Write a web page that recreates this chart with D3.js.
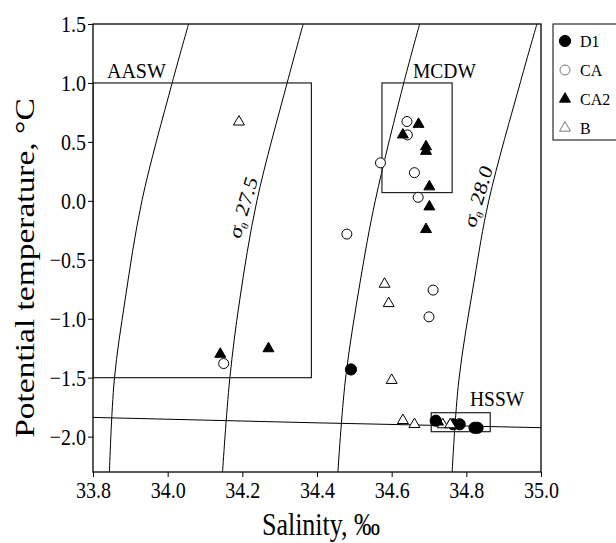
<!DOCTYPE html>
<html>
<head>
<meta charset="utf-8">
<script src="https://cdn.jsdelivr.net/npm/d3@7"></script>
<style>
  body { margin: 0; background: #fff; }
  svg { display: block; font-family: "Liberation Serif", "Times New Roman", serif; }
</style>
</head>
<body>
<div id="chart"></div>
<script>
// tick values
const salTicks = [33.8, 34.0, 34.2, 34.4, 34.6, 34.8, 35.0];
const tempTicks = [1.5, 1.0, 0.5, 0.0, -0.5, -1.0, -1.5, -2.0];

// station groups, [salinity, potential temperature]
const d1 = [[34.491, -1.43], [34.718, -1.865], [34.765, -1.895], [34.782, -1.895], [34.822, -1.925], [34.830, -1.925]];
const ca = [[34.641, 0.673], [34.642, 0.559], [34.570, 0.322], [34.661, 0.239], [34.671, 0.03], [34.480, -0.282], [34.711, -0.757], [34.700, -0.984], [34.150, -1.38]];
const ca2 = [[34.672, 0.650], [34.630, 0.560], [34.692, 0.460], [34.692, 0.421], [34.701, 0.120], [34.701, -0.050], [34.692, -0.242], [34.141, -1.300], [34.270, -1.253], [34.724, -1.875]];
const bPts = [[34.191, 0.670], [34.581, -0.706], [34.592, -0.870], [34.600, -1.522], [34.630, -1.862], [34.661, -1.896], [34.737, -1.898], [34.757, -1.898]];

// isopycnals (sigma-theta)
const iso2725 = [[34.056, 1.5], [34.012, 1.0], [33.931, 0.0], [33.886, -0.84], [33.857, -1.52], [33.844, -2.3]];
const iso2750 = [[34.363, 1.5], [34.320, 1.0], [34.239, 0.0], [34.193, -0.84], [34.166, -1.52], [34.147, -2.3]];
const iso2775 = [[34.675, 1.5], [34.634, 1.02], [34.556, 0.0], [34.516, -0.68], [34.476, -1.52], [34.456, -2.3]];
const iso2800 = [[34.989, 1.5], [34.946, 1.02], [34.860, 0.0], [34.821, -0.68], [34.780, -1.52], [34.762, -2.3]];

// surface freezing point line
const freezing = [[33.8, -1.837], [34.4, -1.883], [35.0, -1.924]];

// water mass boxes: [sMin, sMax, tMin, tMax]
const waterMasses = [
  { name: "AASW", box: [33.8, 34.385, -1.5, 1.0] },
  { name: "MCDW", box: [34.574, 34.762, 0.07, 1.0] },
  { name: "HSSW", box: [34.706, 34.864, -1.958, -1.797] }
];

const seriesNames = ["D1", "CA", "CA2", "B"];

const width = 616, height = 543;
const margin = { top: 24, right: 75, bottom: 71, left: 93 };
const w = 448, h = 448;
const stretchY = 1.2; // the printed figure's lettering is taller than wide

const svg = d3.select("#chart").append("svg")
  .attr("width", width)
  .attr("height", height);

const g = svg.append("g").attr("transform", `translate(${margin.left},${margin.top})`);

const x = d3.scaleLinear().domain([33.8, 35.0]).range([0, w]);
const y = d3.scaleLinear().domain([-2.3, 1.5]).range([h, 0]);

g.append("clipPath").attr("id", "plot-clip")
  .append("rect").attr("width", w).attr("height", h);

const plot = g.append("g").attr("clip-path", "url(#plot-clip)");

// isopycnals
const curve = d3.line()
  .x(d => x(d[0]))
  .y(d => y(d[1]))
  .curve(d3.curveCatmullRom);

[iso2725, iso2750, iso2775, iso2800].forEach(iso => {
  plot.append("path")
    .attr("d", curve(iso))
    .attr("fill", "none")
    .attr("stroke", "#000")
    .attr("stroke-width", 1);
});

plot.append("path")
  .attr("d", d3.line().x(d => x(d[0])).y(d => y(d[1]))(freezing))
  .attr("fill", "none")
  .attr("stroke", "#000")
  .attr("stroke-width", 1);

// water mass boxes
waterMasses.forEach(m => {
  const [s0, s1, t0, t1] = m.box;
  plot.append("rect")
    .attr("x", x(s0))
    .attr("y", y(t1))
    .attr("width", x(s1) - x(s0))
    .attr("height", y(t0) - y(t1))
    .attr("fill", "none")
    .attr("stroke", "#222")
    .attr("stroke-width", 1.2);
});

const label = (px, py, txt, size) => g.append("text")
  .attr("transform", `translate(${px},${py}) scale(1,1.08)`)
  .attr("font-size", size)
  .text(txt);

label(14, 54, "AASW", 20);
label(320, 54, "MCDW", 19.5);
label(377, 382, "HSSW", 19.5);

// sigma-theta labels
function sigmaLabel(cx, cy, val) {
  const t = g.append("text")
    .attr("transform", `translate(${cx},${cy}) scale(1,${stretchY}) rotate(-70)`)
    .attr("text-anchor", "middle")
    .attr("font-size", 19);
  t.append("tspan").text("σ");
  t.append("tspan").attr("font-size", 10).attr("dy", 4).text("θ");
  t.append("tspan").attr("dy", -4).text(" " + val);
}
sigmaLabel(156, 186, "27.5");
sigmaLabel(391, 175, "28.0");

// markers
const tri = d3.symbol().type(d3.symbolTriangle).size(52);

function drawCircles(data, r, fill) {
  g.append("g").selectAll("circle")
    .data(data)
    .join("circle")
    .attr("cx", d => x(d[0]))
    .attr("cy", d => y(d[1]))
    .attr("r", r)
    .attr("fill", fill)
    .attr("stroke", "#000")
    .attr("stroke-width", 1);
}

function drawTriangles(data, fill) {
  g.append("g").selectAll("path")
    .data(data)
    .join("path")
    .attr("d", tri)
    .attr("transform", d => `translate(${x(d[0])},${y(d[1])})`)
    .attr("fill", fill)
    .attr("stroke", "#000")
    .attr("stroke-width", 1);
}

drawCircles(ca, 5, "#fff");
drawCircles(d1, 5.6, "#000");
drawTriangles(bPts, "#fff");
drawTriangles(ca2, "#000");

// frame
g.append("rect")
  .attr("width", w).attr("height", h)
  .attr("fill", "none").attr("stroke", "#000").attr("stroke-width", 1.3);

// axes
const xAxis = g.append("g")
  .attr("transform", `translate(0,${h})`)
  .call(d3.axisBottom(x).tickValues(salTicks).tickFormat(d3.format(".1f")).tickSize(5).tickPadding(4));
const yAxis = g.append("g")
  .call(d3.axisLeft(y).tickValues(tempTicks).tickFormat(d3.format(".1f")).tickSize(5).tickPadding(2));

[xAxis, yAxis].forEach(a => {
  a.select(".domain").remove();
  a.selectAll("line").attr("stroke", "#000");
  a.selectAll("text")
    .attr("font-size", 20)
    .attr("font-family", "Liberation Serif, serif")
    .attr("fill", "#000")
    .each(function() {
      const t = d3.select(this);
      t.attr("y", (+t.attr("y") || 0) / stretchY).attr("transform", `scale(1,${stretchY})`);
    });
});

svg.append("text")
  .attr("transform", `translate(${margin.left + w / 2 + 4},535) scale(1,${stretchY})`)
  .attr("text-anchor", "middle")
  .attr("font-size", 26)
  .text("Salinity, ‰");

svg.append("text")
  .attr("transform", `translate(34,${margin.top + 244}) scale(1,1.24) rotate(-90)`)
  .attr("text-anchor", "middle")
  .attr("font-size", 27)
  .text("Potential temperature, °C");

// legend
const legend = svg.append("g").attr("transform", "translate(553,24)");
legend.append("rect")
  .attr("width", 70).attr("height", 116)
  .attr("fill", "#fff").attr("stroke", "#000").attr("stroke-width", 1);

seriesNames.forEach((name, i) => {
  const ly = 17 + i * 29;
  const item = legend.append("g").attr("transform", `translate(12,${ly})`);
  if (name === "D1" || name === "CA") {
    item.append("circle").attr("r", name === "D1" ? 5.6 : 5)
      .attr("fill", name === "D1" ? "#000" : "#fff")
      .attr("stroke", name === "D1" ? "#000" : "#777");
  } else {
    item.append("path").attr("d", tri)
      .attr("fill", name === "CA2" ? "#000" : "#fff")
      .attr("stroke", name === "CA2" ? "#000" : "#777");
  }
  item.append("text")
    .attr("transform", "translate(15,6) scale(1,1.1)")
    .attr("font-size", 16)
    .text(name);
});
</script>
</body>
</html>
